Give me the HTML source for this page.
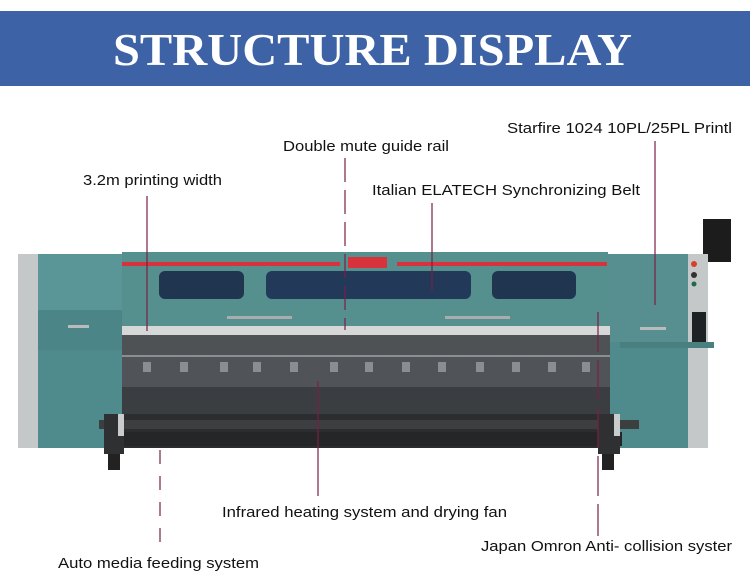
<!DOCTYPE html>
<html><head><meta charset="utf-8"><style>
html,body{margin:0;padding:0;background:#fff;width:750px;height:587px;overflow:hidden}
svg{display:block}
.l{font-family:"Liberation Sans",Arial,sans-serif;font-size:15px;fill:#111}
</style></head><body>
<svg width="750" height="587" viewBox="0 0 750 587" xmlns="http://www.w3.org/2000/svg">
<rect x="0" y="11" width="750" height="75" fill="#3d62a6"/>
<text x="113" y="65" font-family="Liberation Serif,serif" font-weight="bold" font-size="46" fill="#fff" textLength="519" lengthAdjust="spacingAndGlyphs">STRUCTURE DISPLAY</text>

<!-- monitor -->
<rect x="703" y="219" width="28" height="43" fill="#1c1c1c"/>
<!-- body -->
<rect x="18" y="254" width="20" height="194" fill="#c4c8c8"/>
<rect x="38" y="254" width="84" height="194" fill="#4f8a8c"/>
<rect x="38" y="254" width="84" height="56" fill="#5a9597"/>
<rect x="38" y="310" width="84" height="40" fill="#4b8587"/>
<rect x="68" y="325" width="21" height="3" fill="#b8bcbc"/>
<rect x="608" y="254" width="82" height="194" fill="#4f8a8c"/>
<rect x="608" y="254" width="82" height="88" fill="#578f91"/>
<rect x="688" y="254" width="20" height="194" fill="#c4c8c8"/>
<circle cx="694" cy="264" r="3" fill="#d8402a"/>
<circle cx="694" cy="275" r="3" fill="#333"/>
<circle cx="694" cy="284" r="2.5" fill="#1f6b4a"/>
<rect x="692" y="312" width="14" height="32" fill="#1d2325"/>
<rect x="620" y="342" width="94" height="6" fill="#4a7f80"/>
<rect x="640" y="327" width="26" height="3" fill="#b8bcbc"/>
<!-- center top -->
<rect x="122" y="252" width="486" height="74" fill="#55908f"/>
<rect x="122" y="262" width="218" height="4" fill="#d8323c"/>
<rect x="397" y="262" width="210" height="4" fill="#d8323c"/>
<rect x="348" y="257" width="39" height="11" fill="#d8323c"/>
<rect x="159" y="271" width="85" height="28" rx="6" fill="#1f3550"/>
<rect x="266" y="271" width="205" height="28" rx="6" fill="#22395a"/>
<rect x="492" y="271" width="84" height="28" rx="6" fill="#1f3550"/>
<rect x="227" y="316" width="65" height="3" fill="#a9adad"/>
<rect x="445" y="316" width="65" height="3" fill="#a9adad"/>
<!-- rail -->
<rect x="122" y="326" width="488" height="9" fill="#d6d8d8"/>
<!-- dark area -->
<rect x="122" y="335" width="488" height="20" fill="#4e5255"/>
<rect x="122" y="355" width="488" height="2" fill="#8a8f92"/>
<rect x="122" y="357" width="488" height="30" fill="#505458"/>
<g fill="#8a8e90">
<rect x="143" y="362" width="8" height="10"/><rect x="180" y="362" width="8" height="10"/><rect x="220" y="362" width="8" height="10"/><rect x="253" y="362" width="8" height="10"/><rect x="290" y="362" width="8" height="10"/><rect x="330" y="362" width="8" height="10"/><rect x="365" y="362" width="8" height="10"/><rect x="402" y="362" width="8" height="10"/><rect x="438" y="362" width="8" height="10"/><rect x="476" y="362" width="8" height="10"/><rect x="512" y="362" width="8" height="10"/><rect x="548" y="362" width="8" height="10"/><rect x="582" y="362" width="8" height="10"/>
</g>
<rect x="122" y="387" width="488" height="27" fill="#3b3e41"/>
<rect x="122" y="414" width="488" height="34" fill="#2b2d30"/>
<rect x="99" y="420" width="540" height="9" fill="#3c3e40"/>
<rect x="112" y="432" width="510" height="14" fill="#242628"/>
<!-- legs -->
<rect x="104" y="414" width="20" height="40" fill="#2e3032"/>
<rect x="108" y="454" width="12" height="16" fill="#222"/>
<rect x="598" y="414" width="22" height="40" fill="#2e3032"/>
<rect x="602" y="454" width="12" height="16" fill="#222"/>
<rect x="118" y="414" width="6" height="22" fill="#c8cccc"/>
<rect x="614" y="414" width="6" height="22" fill="#c8cccc"/>

<!-- lines -->
<g stroke="#7a1f45" stroke-width="1.2" fill="none">
<line x1="147" y1="196" x2="147" y2="331"/>
<line x1="345" y1="158" x2="345" y2="330" stroke-dasharray="24,8"/>
<line x1="432" y1="203" x2="432" y2="290"/>
<line x1="655" y1="141" x2="655" y2="305"/>
<line x1="318" y1="381" x2="318" y2="496"/>
<line x1="160" y1="450" x2="160" y2="546" stroke-dasharray="14,12"/>
<line x1="598" y1="312" x2="598" y2="536" stroke-dasharray="40,8"/>
</g>

<text class="l" x="507" y="133" textLength="225" lengthAdjust="spacingAndGlyphs">Starfire 1024 10PL/25PL Printl</text>
<text class="l" x="283" y="151" textLength="166" lengthAdjust="spacingAndGlyphs">Double mute guide rail</text>
<text class="l" x="83" y="185" textLength="139" lengthAdjust="spacingAndGlyphs">3.2m printing width</text>
<text class="l" x="372" y="195" textLength="268" lengthAdjust="spacingAndGlyphs">Italian ELATECH Synchronizing Belt</text>
<text class="l" x="222" y="517" textLength="285" lengthAdjust="spacingAndGlyphs">Infrared heating system and drying fan</text>
<text class="l" x="481" y="551" textLength="251" lengthAdjust="spacingAndGlyphs">Japan Omron Anti- collision syster</text>
<text class="l" x="58" y="568" textLength="201" lengthAdjust="spacingAndGlyphs">Auto media feeding system</text>
</svg>
</body></html>
